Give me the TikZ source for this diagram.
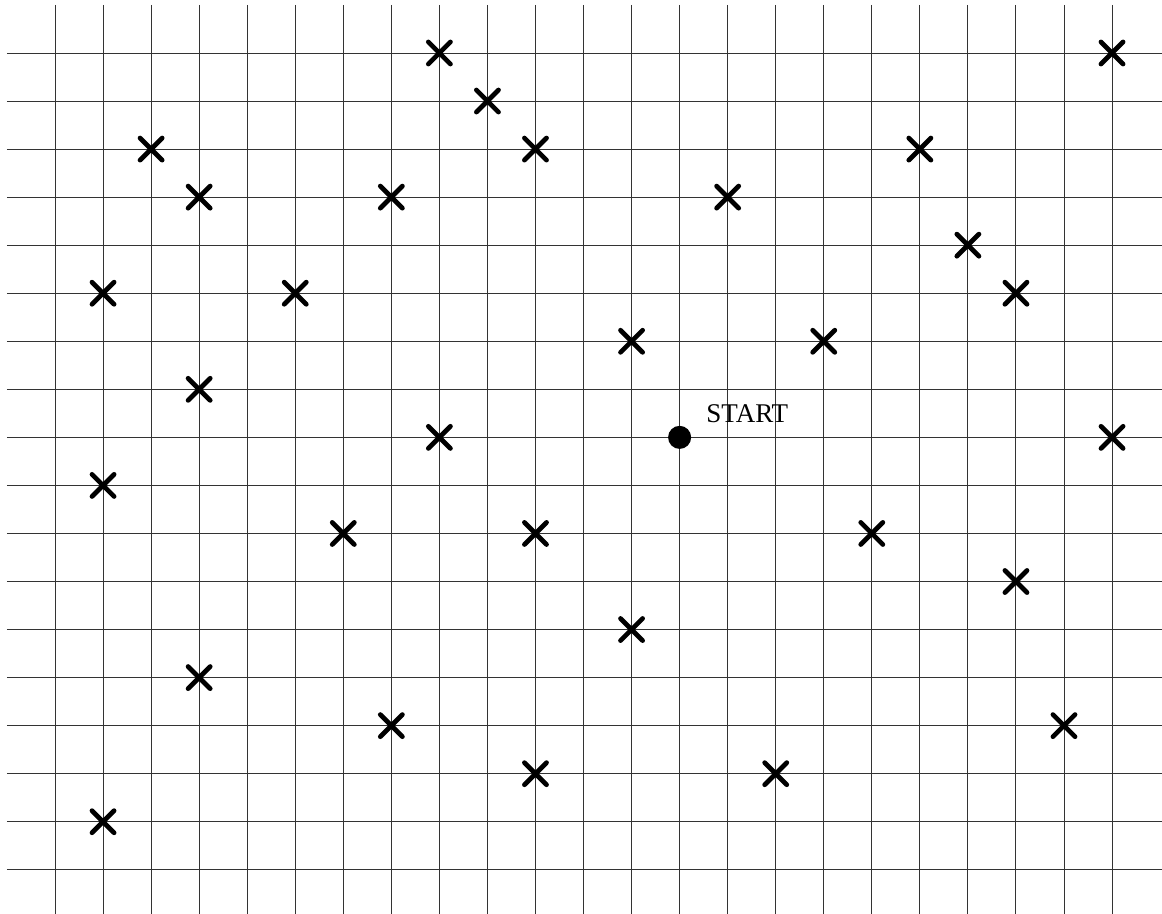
\documentclass[tikz,border=0pt]{standalone}
\usepackage{fontspec}
\setmainfont{Liberation Serif}
\usepackage{tikz}
\usetikzlibrary{positioning}

\tikzset{
  gridline/.style={black!80, line width=0.55pt},
  crossmark/.style={black, line width=2.8pt, line cap=round},
  startdot/.style={circle, fill=black, inner sep=0pt, minimum size=0.48cm},
  startlabel/.style={inner sep=0pt, font=\fontsize{16}{18}\selectfont}
}

\begin{document}
\begin{tikzpicture}
  \useasboundingbox (-1.145,1.103) rectangle (23.04,-17.92);
  % grid
  \foreach \c in {0,...,22}
    \draw[gridline] (\c,1) -- (\c,-17.92);
  \foreach \r in {0,...,17}
    \draw[gridline] (-1,-\r) -- (23.04,-\r);
  % crosses (column/row, rows counted from the top)
  \foreach \c/\r in {8/0, 22/0, 9/1, 2/2, 10/2, 18/2, 3/3, 7/3, 14/3, 19/4,
                     1/5, 5/5, 20/5, 12/6, 16/6, 3/7, 8/8, 22/8, 1/9,
                     6/10, 10/10, 17/10, 20/11, 12/12, 3/13, 7/14, 21/14,
                     10/15, 15/15, 1/16} {
    \draw[crossmark] (\c-0.23,-\r-0.23) -- (\c+0.23,-\r+0.23);
    \draw[crossmark] (\c-0.23,-\r+0.23) -- (\c+0.23,-\r-0.23);
  }
  % start point
  \node[startdot] (start) at (13,-8) {};
  \node[startlabel, anchor=base west] (starttext) at (13.55,-7.70) {START};
\end{tikzpicture}
\end{document}
